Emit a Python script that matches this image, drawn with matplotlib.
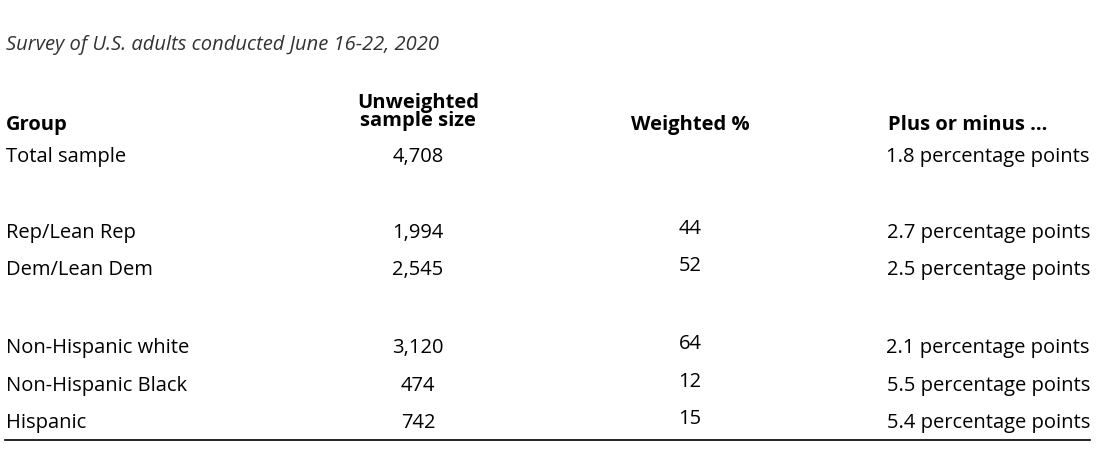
import matplotlib.pyplot as plt
from matplotlib.lines import Line2D

groups = ["Total sample", "Rep/Lean Rep", "Dem/Lean Dem",
          "Non-Hispanic white", "Non-Hispanic Black", "Hispanic"]
sample_sizes = ["4,708", "1,994", "2,545", "3,120", "474", "742"]
weighted = ["", "44", "52", "64", "12", "15"]
margins = ["1.8", "2.7", "2.5", "2.1", "5.5", "5.4"]
row_y = [157, 233, 270, 348, 386, 423]  # pixel rows (from top)

W, H = 1108, 450
fig = plt.figure(figsize=(W / 100, H / 100), dpi=100)
plt.rcParams["font.family"] = "Open Sans"


def px(x, y):
    return x / W, 1 - y / H


fs = 14.5
fig.text(*px(6, 45), "Survey of U.S. adults conducted June 16-22, 2020",
         fontsize=fs, style="italic", color="#333333", va="center")

# headers
fig.text(*px(6, 125), "Group", fontsize=fs, weight="bold", va="center")
fig.text(*px(418, 112), "Unweighted\nsample size", fontsize=fs, weight="bold",
         va="center", ha="center", linespacing=0.9)
fig.text(*px(690, 125), "Weighted %", fontsize=fs, weight="bold", va="center", ha="center")
fig.text(*px(968, 125), "Plus or minus ...", fontsize=fs, weight="bold", va="center", ha="center")

for g, n, w, m, y in zip(groups, sample_sizes, weighted, margins, row_y):
    fig.text(*px(6, y), g, fontsize=fs, va="center")
    fig.text(*px(418, y), n, fontsize=fs, va="center", ha="center")
    fig.text(*px(690, y - 4), w, fontsize=fs, va="center", ha="center")
    fig.text(*px(1090, y), f"{m} percentage points", fontsize=fs, va="center", ha="right")

x0, y0 = px(5, 440)
x1, _ = px(1090, 440)
fig.add_artist(Line2D([x0, x1], [y0, y0], color="black", lw=1.2))

fig.savefig("out.png", dpi=100, facecolor="white")
